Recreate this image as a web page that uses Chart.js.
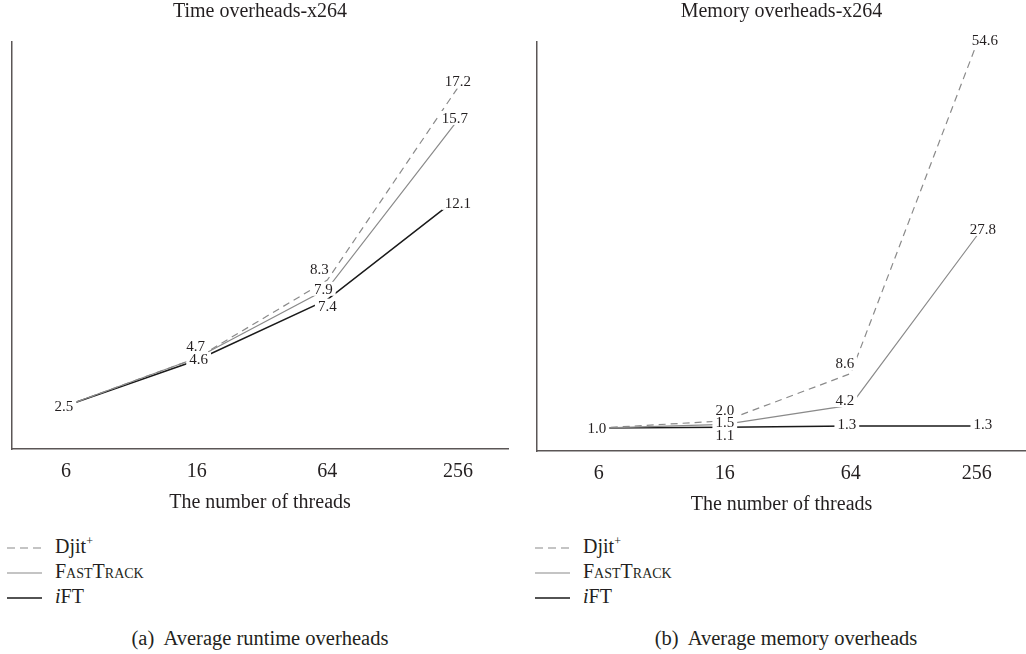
<!DOCTYPE html>
<html>
<head>
<meta charset="utf-8">
<script src="https://cdn.jsdelivr.net/npm/chart.js@4.4.1/dist/chart.umd.min.js"></script>
<style>
  body { margin: 0; background: #fff; width: 1026px; height: 654px; position: relative; overflow: hidden;
         font-family: "Liberation Serif", serif; color: #231f20; }
  canvas { position: absolute; top: 0; }
  #timeChart { left: 0; }
  #memChart { left: 513px; }
  .legend { position: absolute; top: 534px; font-size: 20px; line-height: 25px; }
  .legend div { height: 25px; white-space: nowrap; }
  .legend svg { vertical-align: middle; margin-right: 13px; }
  .legend sup { font-size: 12px; line-height: 0; }
  .sc { font-variant: small-caps; }
  .caption { position: absolute; top: 627px; width: 520px; text-align: center; font-size: 20.5px; white-space: pre; }
</style>
</head>
<body>
<canvas id="timeChart" width="513" height="519"></canvas>
<canvas id="memChart" width="513" height="521"></canvas>

<div class="legend" style="left:7px">
  <div><svg width="35" height="4"><line x1="0" y1="2" x2="35" y2="2" stroke="#8a8a8a" stroke-width="1.2" stroke-dasharray="8 5"/></svg>Djit<sup>+</sup></div>
  <div><svg width="35" height="4"><line x1="0" y1="2" x2="35" y2="2" stroke="#8a8a8a" stroke-width="1.2"/></svg><span class="sc">FastTrack</span></div>
  <div><svg width="35" height="4"><line x1="0" y1="2" x2="35" y2="2" stroke="#1a1a1a" stroke-width="1.5"/></svg><i>i</i>FT</div>
</div>
<div class="legend" style="left:535px">
  <div><svg width="35" height="4"><line x1="0" y1="2" x2="35" y2="2" stroke="#8a8a8a" stroke-width="1.2" stroke-dasharray="8 5"/></svg>Djit<sup>+</sup></div>
  <div><svg width="35" height="4"><line x1="0" y1="2" x2="35" y2="2" stroke="#8a8a8a" stroke-width="1.2"/></svg><span class="sc">FastTrack</span></div>
  <div><svg width="35" height="4"><line x1="0" y1="2" x2="35" y2="2" stroke="#1a1a1a" stroke-width="1.5"/></svg><i>i</i>FT</div>
</div>

<div class="caption" style="left:0">(a)  Average runtime overheads</div>
<div class="caption" style="left:526px">(b)  Average memory overheads</div>

<script>
// thread counts on the x axis
const threads = ['6', '16', '64', '256'];

// average runtime overheads
const timeDjit = [2.5, 4.7, 8.3, 17.2];
const timeFastTrack = [2.5, 4.7, 7.9, 15.7];
const timeIFT = [2.5, 4.6, 7.4, 12.1];

// average memory overheads
const memDjit = [1.0, 2.0, 8.6, 54.6];
const memFastTrack = [1.0, 1.5, 4.2, 27.8];
const memIFT = [1.0, 1.1, 1.3, 1.3];

const ink = '#231f20';
const serif = '"Liberation Serif", serif';

// value labels with a white box, drawn over the lines
const pointLabels = {
    id: 'pointLabels',
    afterDatasetsDraw(chart, args, opts) {
        const ctx = chart.ctx;
        const seen = {};
        ctx.save();
        ctx.font = '15px ' + serif;
        ctx.textAlign = 'center';
        ctx.textBaseline = 'middle';
        chart.data.datasets.forEach((ds, di) => {
            chart.getDatasetMeta(di).data.forEach((pt, i) => {
                const text = ds.data[i].y.toFixed(1);
                const key = i + ':' + text;
                if (seen[key]) return;   // same value at same spot: one label only
                seen[key] = true;
                const off = (opts.offsets[di] || [])[i] || [0, 0];
                const x = pt.x + off[0];
                const y = pt.y + off[1];
                const w = ctx.measureText(text).width + 6;
                ctx.fillStyle = '#fff';
                ctx.fillRect(x - w / 2, y - 7, w, 14);
                ctx.fillStyle = ink;
                ctx.fillText(text, x, y + 1);
            });
        });
        ctx.restore();
    }
};

function series(values) {
    return values.map((v, i) => ({ x: i, y: v }));
}

function makeChart(id, title, djit, fastTrack, ift, xRange, yRange, padLeft, padRight, offsets) {
    const ctx = document.getElementById(id).getContext('2d');
    return new Chart(ctx, {
        type: 'line',
        data: {
            datasets: [
                { label: 'Djit+', data: series(djit), borderColor: '#8a8a8a', borderWidth: 1.2, borderDash: [7, 5] },
                { label: 'FastTrack', data: series(fastTrack), borderColor: '#8a8a8a', borderWidth: 1.2 },
                { label: 'iFT', data: series(ift), borderColor: '#1a1a1a', borderWidth: 1.5 }
            ]
        },
        options: {
            responsive: false,
            animation: false,
            devicePixelRatio: 1,
            layout: { padding: { left: padLeft, right: padRight, top: 0, bottom: 0 } },
            elements: { point: { radius: 0 }, line: { tension: 0 } },
            datasets: { line: { clip: false } },
            scales: {
                x: {
                    type: 'linear',
                    min: xRange[0],
                    max: xRange[1],
                    afterBuildTicks: s => { s.ticks = threads.map((t, i) => ({ value: i })); },
                    ticks: {
                        callback: v => threads[v],
                        color: ink,
                        font: { family: serif, size: 20 },
                        padding: 11,
                        maxRotation: 0
                    },
                    grid: { display: false, drawTicks: false },
                    border: { display: true, color: '#5b5656', width: 1.5 },
                    title: {
                        display: true,
                        text: 'The number of threads',
                        color: ink,
                        font: { family: serif, size: 20 },
                        padding: { top: -4, bottom: 4 }
                    }
                },
                y: {
                    min: yRange[0],
                    max: yRange[1],
                    ticks: { display: false },
                    grid: { display: false, drawTicks: false },
                    border: { display: true, color: '#5b5656', width: 1.5 }
                }
            },
            plugins: {
                legend: { display: false },
                tooltip: { enabled: false },
                title: {
                    display: true,
                    text: title,
                    fullSize: false,
                    color: ink,
                    font: { family: serif, size: 20, weight: 'normal' },
                    padding: { top: 0, bottom: 18 }
                },
                pointLabels: { offsets: offsets }
            }
        },
        plugins: [pointLabels]
    });
}

makeChart('timeChart', 'Time overheads-x264', timeDjit, timeFastTrack, timeIFT,
    [-0.413, 3.383], [0.5, 19.3], 12, 5,
    [[[-2, 0], [-1, -12], [-8, -11], [0, -6]],
     [[-2, 0], [0, 0], [-4, 0], [-3, -2]],
     [[-2, 0], [2, -1], [0, 6], [0, 5]]]);

makeChart('memChart', 'Memory overheads-x264', memDjit, memFastTrack, memIFT,
    [-0.49, 3.39], [-2.2, 54.8], 24, 0,
    [[[-2, 0], [0, -11], [-6, -10], [8, -3]],
     [[-2, 0], [0, -2], [-6, -5], [6, -7]],
     [[-2, 0], [0, 8], [-4, -2], [6, -2]]]);
</script>
</body>
</html>
